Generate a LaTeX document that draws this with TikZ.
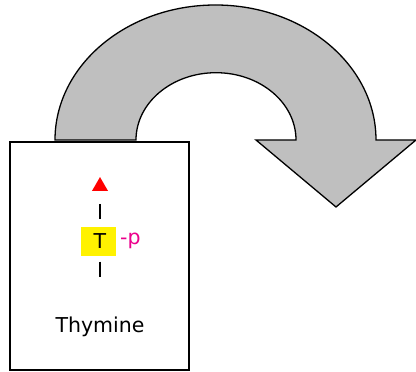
\documentclass[tikz,border=0pt]{standalone}
\usepackage{fontspec}
\setmainfont{DejaVu Sans}
\usetikzlibrary{shapes.geometric}
\begin{document}
\begin{tikzpicture}[x=1pt, y=1pt,
		label text/.style={font=\fontsize{20.5}{24}\selectfont, inner sep=0pt},
		bar/.style={line width=2pt}]
	\useasboundingbox (0,0) rectangle (416,372);
	% turning arrow
	\draw[line width=1.3pt, fill=black!25]
		(55,232) arc[start angle=180, end angle=0, x radius=160.5, y radius=135]
		-- (416,232) -- (336,165) -- (256,232) -- (296,232)
		arc[start angle=0, end angle=180, x radius=80, y radius=67.3]
		-- cycle;
	% base box
	\draw[line width=2pt, fill=white] (10,230) rectangle (189,2);
	\node[regular polygon, regular polygon sides=3, fill=red, inner sep=0pt,
		minimum size=18.5pt] (top) at (100,185.7) {};
	\node[fill=yellow, minimum width=34.7pt, minimum height=29pt, inner sep=0pt,
		label text] (base) at (98.3,130.8) {\hspace{3pt}T};
	\node[label text, text=magenta, anchor=west] (phos) at (120,131) {-p};
	\node[label text] (name) at (100,45.3) {Thymine};
	\coordinate (upper a) at (100,168);
	\coordinate (upper b) at (100,153);
	\coordinate (lower a) at (100,110.3);
	\coordinate (lower b) at (100,95.3);
	\draw[bar] (upper a) -- (upper b);
	\draw[bar] (lower a) -- (lower b);
\end{tikzpicture}
\end{document}
